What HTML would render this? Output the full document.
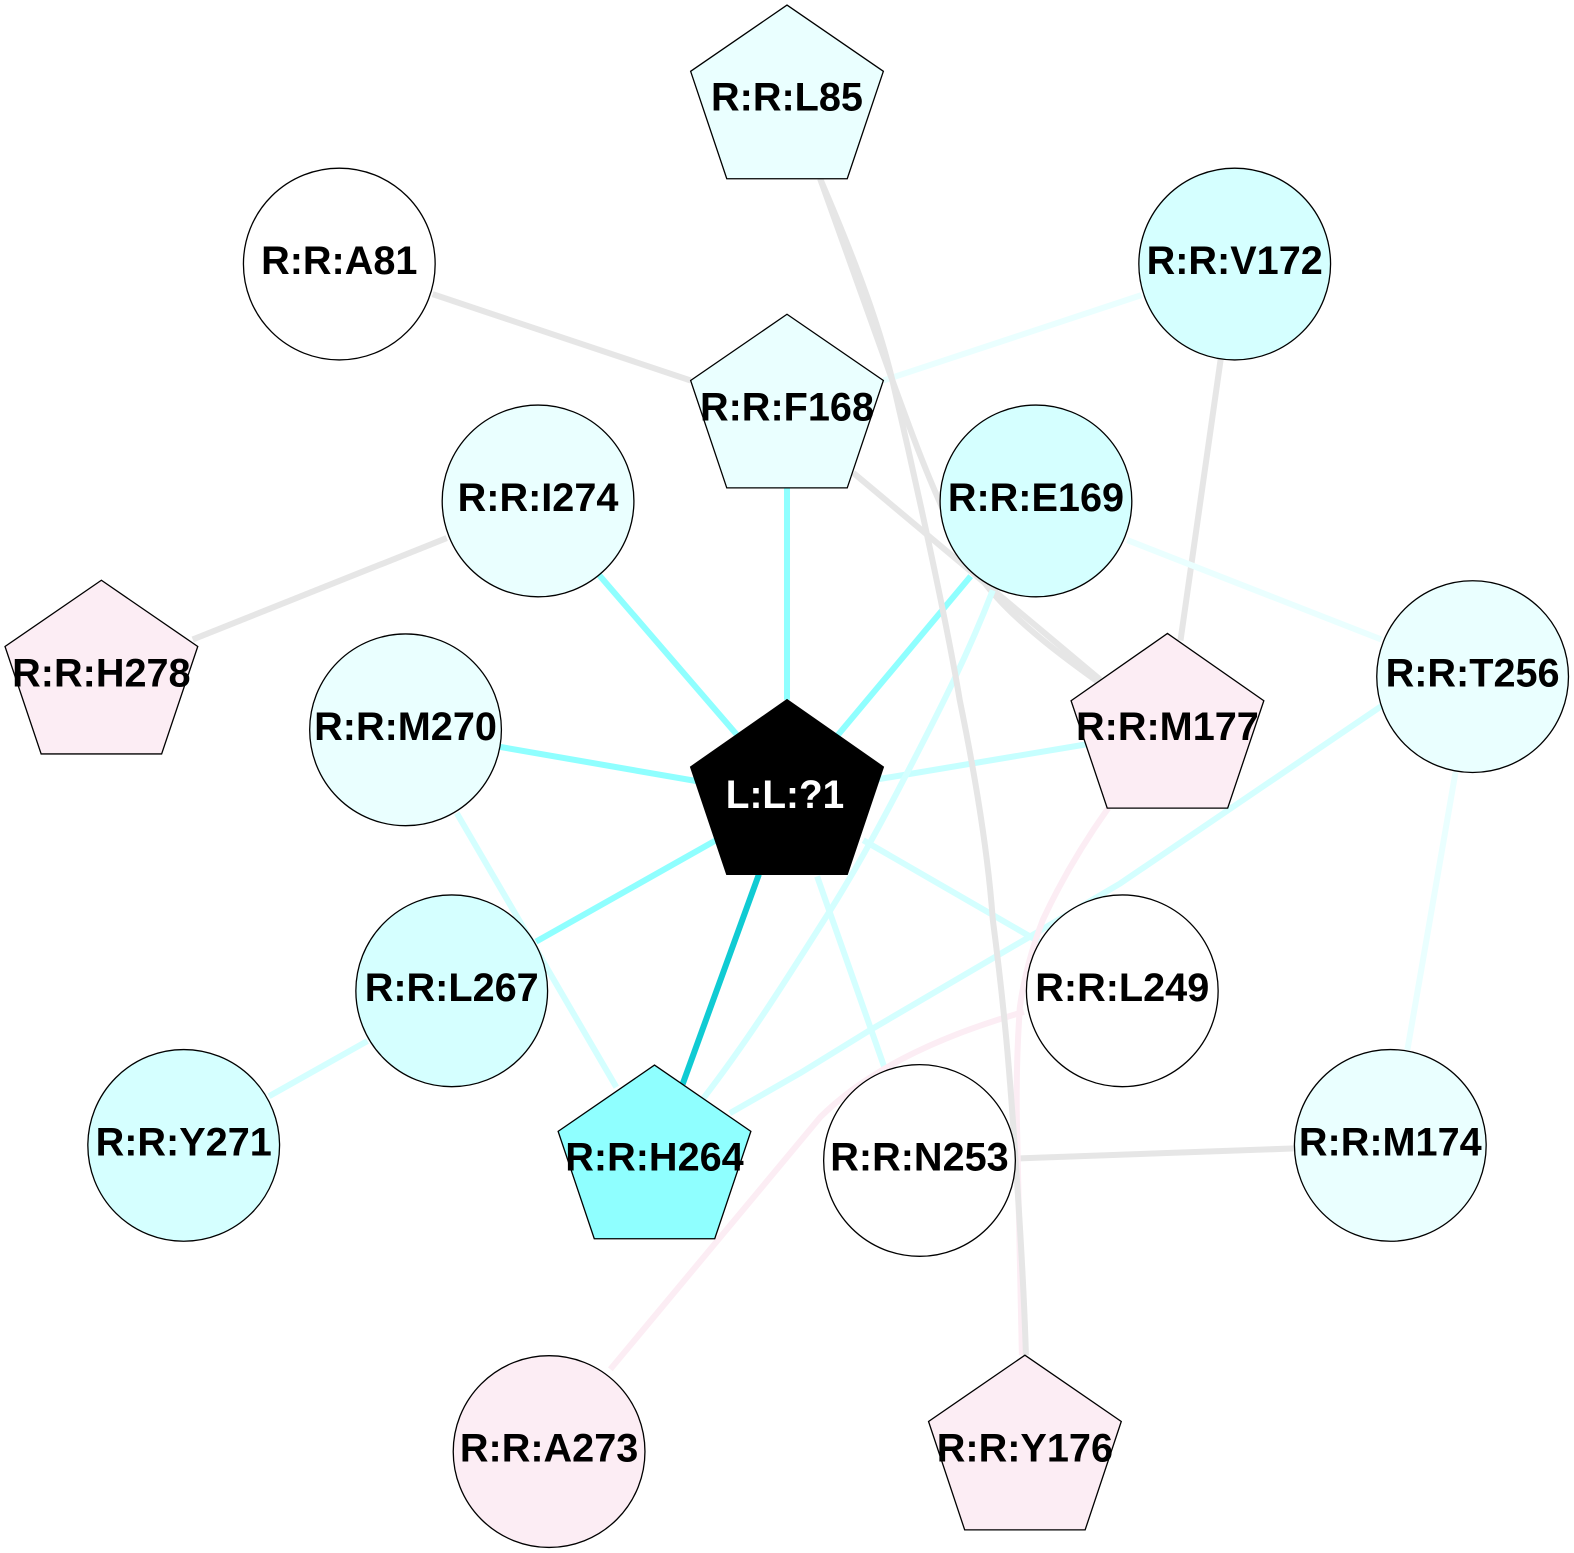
<!DOCTYPE html>
<html><head><meta charset="utf-8"><style>html,body{margin:0;padding:0;background:#fff}svg{display:block}text{font-family:"Liberation Sans",sans-serif;font-weight:bold;font-size:39.5px;text-anchor:middle;fill:#000}</style></head><body>
<svg width="1574" height="1553" viewBox="0 0 1568 1547" xmlns="http://www.w3.org/2000/svg">
<rect width="1568" height="1547" fill="#fff"/>
<g fill="none" stroke-width="6" stroke-linejoin="round">
<path d="M431 293L688 379" stroke="#e6e6e6"/>
<path d="M1137 294L880 379" stroke="#eaffff"/>
<path d="M850 471L1096 677" stroke="#e6e6e6"/>
<path d="M817 178L889 379C915 450 950 550 993 595C1020 625 1060 655 1095 680" stroke="#e6e6e6"/>
<path d="M1216 358L1176 638" stroke="#e6e6e6"/>
<path d="M445 536L192 637" stroke="#e6e6e6"/>
<path d="M1012 1154L1290 1144" stroke="#e6e6e6"/>
<path d="M784 486L784 697" stroke="#8fffff"/>
<path d="M597 573L735 733" stroke="#8fffff"/>
<path d="M967 574L834 733" stroke="#8fffff"/>
<path d="M498 744L705 780" stroke="#8fffff"/>
<path d="M534 938L715 836" stroke="#8fffff"/>
<path d="M1085 741L870 777" stroke="#c6ffff"/>
<path d="M860 837L1035 938" stroke="#d4ffff"/>
<path d="M814 873L882 1066" stroke="#d4ffff"/>
<path d="M756 871L680 1080" stroke="#10cbd3"/>
<path d="M455 810L614 1083" stroke="#d4ffff"/>
<path d="M989 588C965 650 940 700 900 777C870 835 850 870 827 907C790 965 750 1030 700 1095" stroke="#d4ffff"/>
<path d="M727 1109L797 1069L867 1026L1026 933L1116 880L1384 698" stroke="#d4ffff"/>
<path d="M1123 538L1376 637" stroke="#eaffff"/>
<path d="M1450 769L1402 1046" stroke="#eaffff"/>
<path d="M366 1037L268 1092" stroke="#d4ffff"/>
<path d="M1104 805Q1065 860 1039 916Q1022 960 1016 1003Q1012 1060 1013 1116L1018 1350" stroke="#fcedf4"/>
<path d="M1020 1008C950 1028 870 1060 817 1113L608 1364" stroke="#fcedf4"/>
<path d="M817 178C850 255 875 320 889 379C915 490 945 630 956 697C975 790 985 860 989 916C1000 1000 1005 1060 1009 1116C1015 1200 1020 1280 1022 1350" stroke="#e6e6e6"/>
</g>
<g stroke="#000" stroke-width="1.3">
<polygon points="784,5 880,71 844,178 724,178 688,71" fill="#eaffff"/>
<polygon points="784,313 880,379 844,486 724,486 688,379" fill="#eaffff"/>
<polygon points="101,578 197,644 161,751 41,751 5,644" fill="#fcedf4"/>
<polygon points="784,697 880,764 844,871 724,871 688,764" fill="#000"/>
<polygon points="1163,631 1259,698 1223,805 1103,805 1067,698" fill="#fcedf4"/>
<polygon points="652,1061 748,1127 712,1234 592,1234 556,1127" fill="#8fffff"/>
<polygon points="1021,1350 1117,1416 1081,1524 961,1524 925,1416" fill="#fcedf4"/>
<circle cx="338" cy="263" r="95.5" fill="#fff"/>
<circle cx="1230" cy="263" r="95.5" fill="#d5ffff"/>
<circle cx="536" cy="499" r="95.5" fill="#eaffff"/>
<circle cx="1032" cy="499" r="95.5" fill="#d5ffff"/>
<circle cx="404" cy="727" r="95.5" fill="#eaffff"/>
<circle cx="1467" cy="674" r="95.5" fill="#eaffff"/>
<circle cx="450" cy="987" r="95.5" fill="#d5ffff"/>
<circle cx="1118" cy="987" r="95.5" fill="#fff"/>
<circle cx="183" cy="1141" r="95.5" fill="#d5ffff"/>
<circle cx="916" cy="1156" r="95.5" fill="#fff"/>
<circle cx="1385" cy="1141" r="95.5" fill="#eaffff"/>
<circle cx="547" cy="1446" r="95.5" fill="#fcedf4"/>
</g>
<text x="784" y="110">R:R:L85</text>
<text x="338" y="273">R:R:A81</text>
<text x="1230" y="273">R:R:V172</text>
<text x="784" y="419">R:R:F168</text>
<text x="536" y="509">R:R:I274</text>
<text x="1032" y="509">R:R:E169</text>
<text x="101" y="684">R:R:H278</text>
<text x="404" y="737">R:R:M270</text>
<text x="1467" y="684">R:R:T256</text>
<text x="1163" y="737">R:R:M177</text>
<text x="782" y="805" textLength="118" lengthAdjust="spacingAndGlyphs" style="fill:#fff">L:L:?1</text>
<text x="450" y="997">R:R:L267</text>
<text x="1118" y="997">R:R:L249</text>
<text x="183" y="1151">R:R:Y271</text>
<text x="652" y="1166">R:R:H264</text>
<text x="916" y="1166">R:R:N253</text>
<text x="1385" y="1151">R:R:M174</text>
<text x="547" y="1456">R:R:A273</text>
<text x="1021" y="1456">R:R:Y176</text>
</svg>
</body></html>
